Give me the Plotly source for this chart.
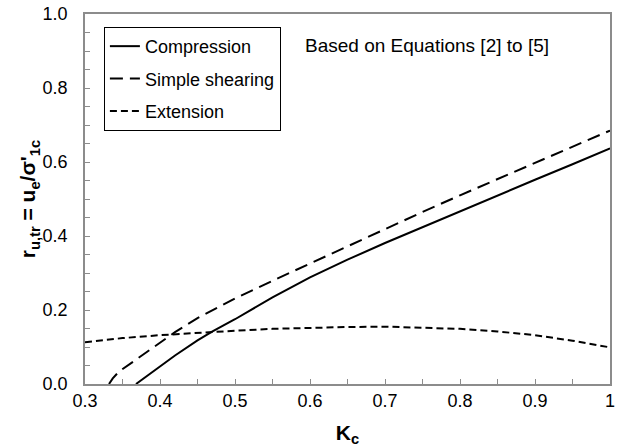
import plotly.graph_objects as go

# Kc values and transitional excess pore pressure ratio for each loading mode
k_compression = [0.368, 0.38, 0.40, 0.42, 0.45, 0.47, 0.50, 0.55, 0.60, 0.65,
                 0.70, 0.75, 0.80, 0.85, 0.90, 0.95, 1.00]
r_compression = [0.0, 0.018, 0.048, 0.077, 0.118, 0.142, 0.175, 0.234, 0.288,
                 0.336, 0.381, 0.424, 0.468, 0.510, 0.552, 0.594, 0.637]

k_shearing = [0.332, 0.337, 0.345, 0.355, 0.37, 0.40, 0.42, 0.45, 0.50, 0.55,
              0.60, 0.65, 0.70, 0.75, 0.80, 0.85, 0.90, 0.95, 1.00]
r_shearing = [0.0, 0.015, 0.033, 0.047, 0.068, 0.110, 0.140, 0.178, 0.231,
              0.279, 0.326, 0.373, 0.419, 0.465, 0.510, 0.554, 0.598, 0.642, 0.685]

k_extension = [0.30, 0.35, 0.40, 0.45, 0.50, 0.55, 0.60, 0.65, 0.70, 0.75,
               0.80, 0.85, 0.90, 0.95, 1.00]
r_extension = [0.113, 0.124, 0.132, 0.139, 0.144, 0.149, 0.152, 0.154, 0.155,
               0.153, 0.149, 0.142, 0.132, 0.117, 0.099]

FONT = "Liberation Sans, Arial, sans-serif"
AXIS_GRAY = "#8c8c8c"

fig = go.Figure()
fig.add_trace(go.Scatter(x=k_compression, y=r_compression, mode="lines",
                         name="Compression", legendgroup="a",
                         line=dict(color="black", width=2, dash="solid")))
fig.add_trace(go.Scatter(x=k_shearing, y=r_shearing, mode="lines",
                         name="Simple shearing", legendgroup="b",
                         line=dict(color="black", width=2, dash="13px,7px")))
fig.add_trace(go.Scatter(x=k_extension, y=r_extension, mode="lines",
                         name="Extension", legendgroup="c",
                         line=dict(color="black", width=2, dash="7px,4px")))

axis_common = dict(
    showline=True, linecolor=AXIS_GRAY, linewidth=1.5, mirror=True,
    showgrid=False, zeroline=False, automargin=False,
    ticks="inside", ticklen=5, tickcolor=AXIS_GRAY, tickwidth=1,
    tickfont=dict(family=FONT, size=18, color="black"),
)

fig.update_xaxes(
    range=[0.3, 1.0], dtick=0.1, tick0=0.3,
    minor=dict(dtick=0.05, ticks="inside", ticklen=5, tickcolor=AXIS_GRAY),
    title=dict(text="<b>K<sub>c</sub></b>", font=dict(family=FONT, size=21, color="black"),
               standoff=18),
    **axis_common,
)
fig.update_yaxes(
    range=[0.0, 1.0], dtick=0.2, tickformat=".1f", ticklabelstandoff=12,
    minor=dict(dtick=0.05, ticks="inside", ticklen=5, tickcolor=AXIS_GRAY),
    title=dict(text="<b>r<sub>u,tr</sub> = u<sub>e</sub>/σ'<sub>1c</sub></b>",
               font=dict(family=FONT, size=21, color="black"), standoff=0),
    **axis_common,
)

fig.add_annotation(
    text="Based on Equations [2] to [5]", xref="paper", yref="paper",
    x=0.415, y=0.916, xanchor="left", yanchor="middle", showarrow=False,
    font=dict(family=FONT, size=19, color="black"),
)

fig.update_layout(
    width=622, height=447,
    margin=dict(l=85, r=12, t=14, b=63),
    paper_bgcolor="white", plot_bgcolor="white",
    showlegend=True,
    legend=dict(
        x=0.036, y=0.965, xanchor="left", yanchor="top",
        bgcolor="white", bordercolor="black", borderwidth=1,
        font=dict(family=FONT, size=18, color="black"),
        tracegroupgap=6, itemwidth=30,
    ),
)

fig.write_html("out.html")
